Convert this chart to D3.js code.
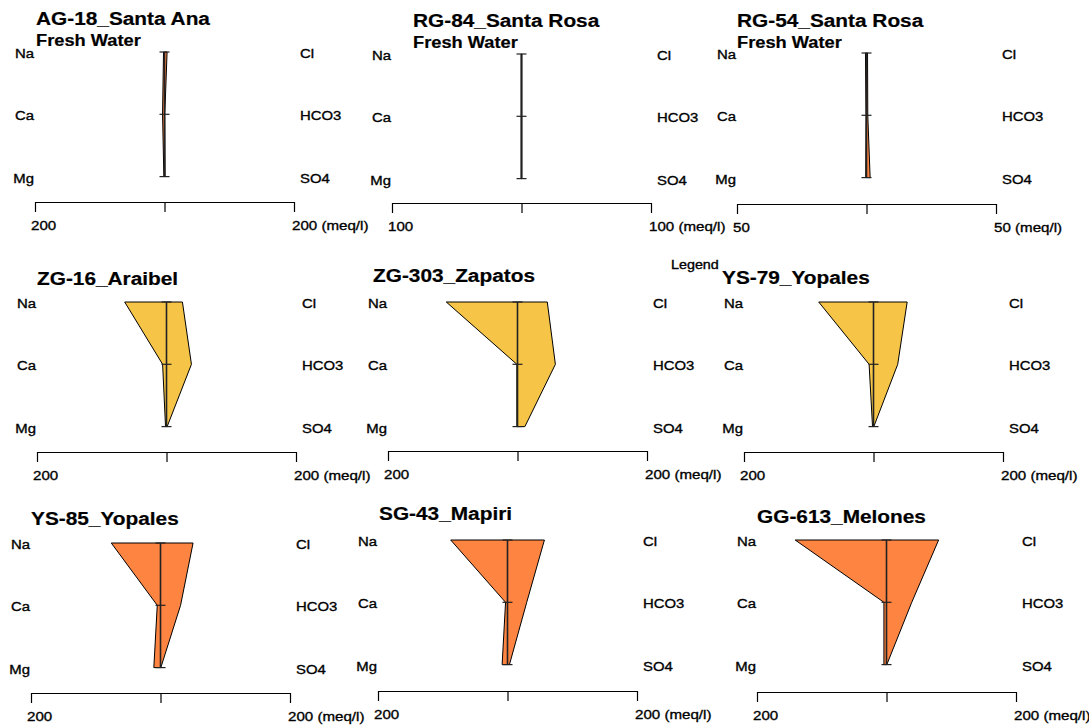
<!DOCTYPE html>
<html>
<head>
<meta charset="utf-8">
<script src="https://cdn.jsdelivr.net/npm/d3@7"></script>
<style>
  body { margin: 0; background: #fff; }
  svg { display: block; font-family: "Liberation Sans", Arial, Helvetica, sans-serif; }
</style>
</head>
<body>
<div></div>
<script>
var width = 1089;
var height = 727;

// samples, one Stiff diagram each
var samples = ["AG-18_Santa Ana", "RG-84_Santa Rosa", "RG-54_Santa Rosa",
               "ZG-16_Araibel", "ZG-303_Zapatos", "YS-79_Yopales",
               "YS-85_Yopales", "SG-43_Mapiri", "GG-613_Melones"];
var subtitles = ["Fresh Water", "Fresh Water", "Fresh Water", "", "", "", "", "", ""];
var scaleMax = [200, 100, 50, 200, 200, 200, 200, 200, 200];

var cations = ["Na", "Ca", "Mg"];
var anions = ["Cl", "HCO3", "SO4"];

// meq/l
var na   = [1.5, 0.3, 0.4, 64.6, 110,  84.6, 76,   87.7, 141];
var ca   = [3,   0.3, 0.2, 6,    1,    6.8,  5,    3,    4];
var mg   = [1,   0.3, 0.3, 1.5,  1,    1.5,  10.3, 8.3,  4];
var cl   = [4,   0.3, 0.4, 24.6, 46,   52,   50.3, 57,   80.5];
var hco3 = [0.5, 0.3, 0.5, 38.5, 58.5, 37.4, 31,   29.7, 39];
var so4  = [1,   0.3, 1.4, 1,    11.4, 0.5,  0.5,  3,    0.5];

// panel placement (pixels)
var axisLeft = [35, 392, 737, 37, 388, 744, 31, 378, 757];
var axisY    = [202, 203, 204, 452, 451, 452, 693, 691, 692];
var rowTop   = [52, 54, 53, 302, 302, 302, 543, 540, 540];
var titleX   = [36, 413, 737, 37, 373, 722, 31, 379, 757];
var titleY   = [25, 27, 27, 285, 282, 284, 525, 520, 523];
var panelFill = ["#fe8442", "#fe8442", "#fe8442",
                 "#f6c548", "#f6c548", "#f6c548",
                 "#fe8442", "#fe8442", "#fe8442"];
var axisWidth = 259;
var rowStep = 62.3;
var stretch = 1.12;

var svg = d3.select("div")
  .append("svg")
  .attr("width", width)
  .attr("height", height);

// text in the reference is drawn a little wide and heavy
function label(g, x, y, txt, size, weight, anchor) {
  return g.append("text")
    .attr("transform", "translate(" + x + "," + y + ") scale(" + stretch + ",1)")
    .attr("text-anchor", anchor || "start")
    .style("font-size", size + "px")
    .style("font-weight", weight || "normal")
    .attr("fill", "#000")
    .attr("stroke", "#000")
    .attr("stroke-width", weight == "bold" ? 0.2 : 0.35)
    .text(txt);
}

samples.forEach(function(name, i) {
  var g = svg.append("g");
  var x = d3.scaleLinear()
    .domain([-scaleMax[i], scaleMax[i]])
    .range([axisLeft[i], axisLeft[i] + axisWidth]);
  var y = d3.scalePoint()
    .domain([0, 1, 2])
    .range([rowTop[i], rowTop[i] + 2 * rowStep]);

  var left = [na[i], ca[i], mg[i]];
  var right = [cl[i], hco3[i], so4[i]];

  var pts = [];
  left.forEach(function(v, k) { pts.push([x(-v), y(k)]); });
  for (var k = 2; k >= 0; k--) pts.push([x(right[k]), y(k)]);

  g.append("path")
    .attr("d", d3.line()(pts) + "Z")
    .attr("fill", panelFill[i])
    .attr("stroke", "#000")
    .attr("stroke-width", 1);

  // centre line with row ticks
  g.append("line")
    .attr("x1", x(0)).attr("x2", x(0))
    .attr("y1", y(0)).attr("y2", y(2))
    .attr("stroke", "#222")
    .attr("stroke-width", 1.6);
  [0, 1, 2].forEach(function(k) {
    g.append("line")
      .attr("x1", x(0) - 5).attr("x2", x(0) + 5)
      .attr("y1", y(k)).attr("y2", y(k))
      .attr("stroke", "#222")
      .attr("stroke-width", 1.2);
  });

  // ion labels
  cations.forEach(function(c, k) {
    label(g, axisLeft[i] - 1, y(k) + 6, c, 13.3, "normal", "end");
  });
  anions.forEach(function(a, k) {
    label(g, axisLeft[i] + axisWidth + 6, y(k) + 6, a, 13.3);
  });

  // bottom axis
  var ax = g.append("g")
    .attr("transform", "translate(0," + axisY[i] + ")")
    .call(d3.axisBottom(x)
      .tickValues([-scaleMax[i], 0, scaleMax[i]])
      .tickSizeInner(10)
      .tickSizeOuter(0)
      .tickFormat(""));
  ax.select(".domain").attr("stroke", "#000").attr("stroke-width", 1.2);
  ax.selectAll(".tick line").attr("stroke", "#000").attr("stroke-width", 1.2);

  label(g, axisLeft[i] - 4, axisY[i] + 28, scaleMax[i], 13.5);
  label(g, axisLeft[i] + axisWidth - 2, axisY[i] + 28, scaleMax[i] + " (meq/l)", 13.5);

  // titles
  label(g, titleX[i], titleY[i], name, 18.6, "bold");
  if (subtitles[i]) label(g, titleX[i], titleY[i] + 21, subtitles[i], 16.3, "bold");
});

label(svg, 671, 269, "Legend", 12.8);
</script>
</body>
</html>
